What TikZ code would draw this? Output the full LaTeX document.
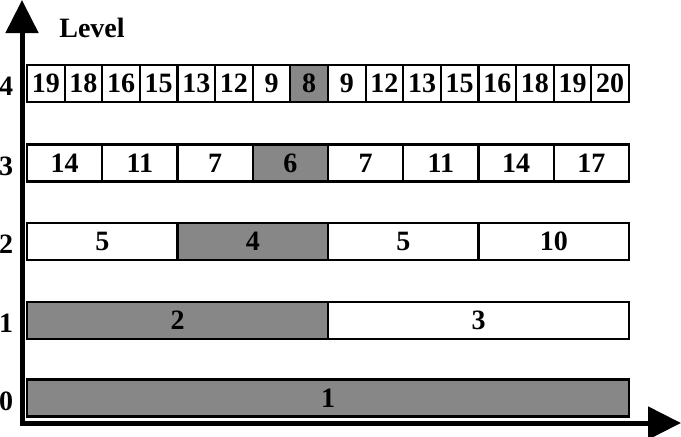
\documentclass[tikz,border=0pt]{standalone}
\usepackage{fontspec}
\setmainfont{Liberation Serif}
\usetikzlibrary{arrows.meta}
\tikzset{
  lbl/.style={font=\fontsize{28}{28}\selectfont\bfseries, inner sep=0pt},
  cell/.style={draw, line width=2.2pt, minimum height=37pt, inner sep=0pt, lbl},
  axis/.style={line width=5pt, line cap=rect, -{Triangle[length=33pt,width=32pt]}},
}
\begin{document}
\begin{tikzpicture}[x=1pt,y=-1pt]
\useasboundingbox (0,0) rectangle (681,437);
% rows of cells: level / centre y / cells / values / shaded cell
\foreach \lev/\y/\n/\vals/\hit in {
  4/83.5/16/{19,18,16,15,13,12,9,8,9,12,13,15,16,18,19,20}/8,
  3/163/8/{14,11,7,6,7,11,14,17}/4,
  2/241.5/4/{5,4,5,10}/2,
  1/320.5/2/{2,3}/1,
  0/398/1/{1}/1}{
  \pgfmathsetmacro\w{602/\n}
  \foreach \v [count=\i] in \vals {
    \pgfmathsetmacro\shade{\i==\hit ? 47 : 0}
    \node[cell, fill=black!\shade, minimum width=\w*1pt] (c\lev-\i) at (27+\i*\w-0.5*\w,\y) {\v};
  }
  \node[lbl] (l\lev) at (6,\y+3) {\lev};
}
% axes
\coordinate (o) at (22,423);
\coordinate (ytop) at (22,0);
\coordinate (xend) at (681,423);
\draw[axis] (o) -- (ytop);
\draw[axis] (o) -- (xend);
\node[lbl] (level) at (92,28) {Level};
\end{tikzpicture}
\end{document}
